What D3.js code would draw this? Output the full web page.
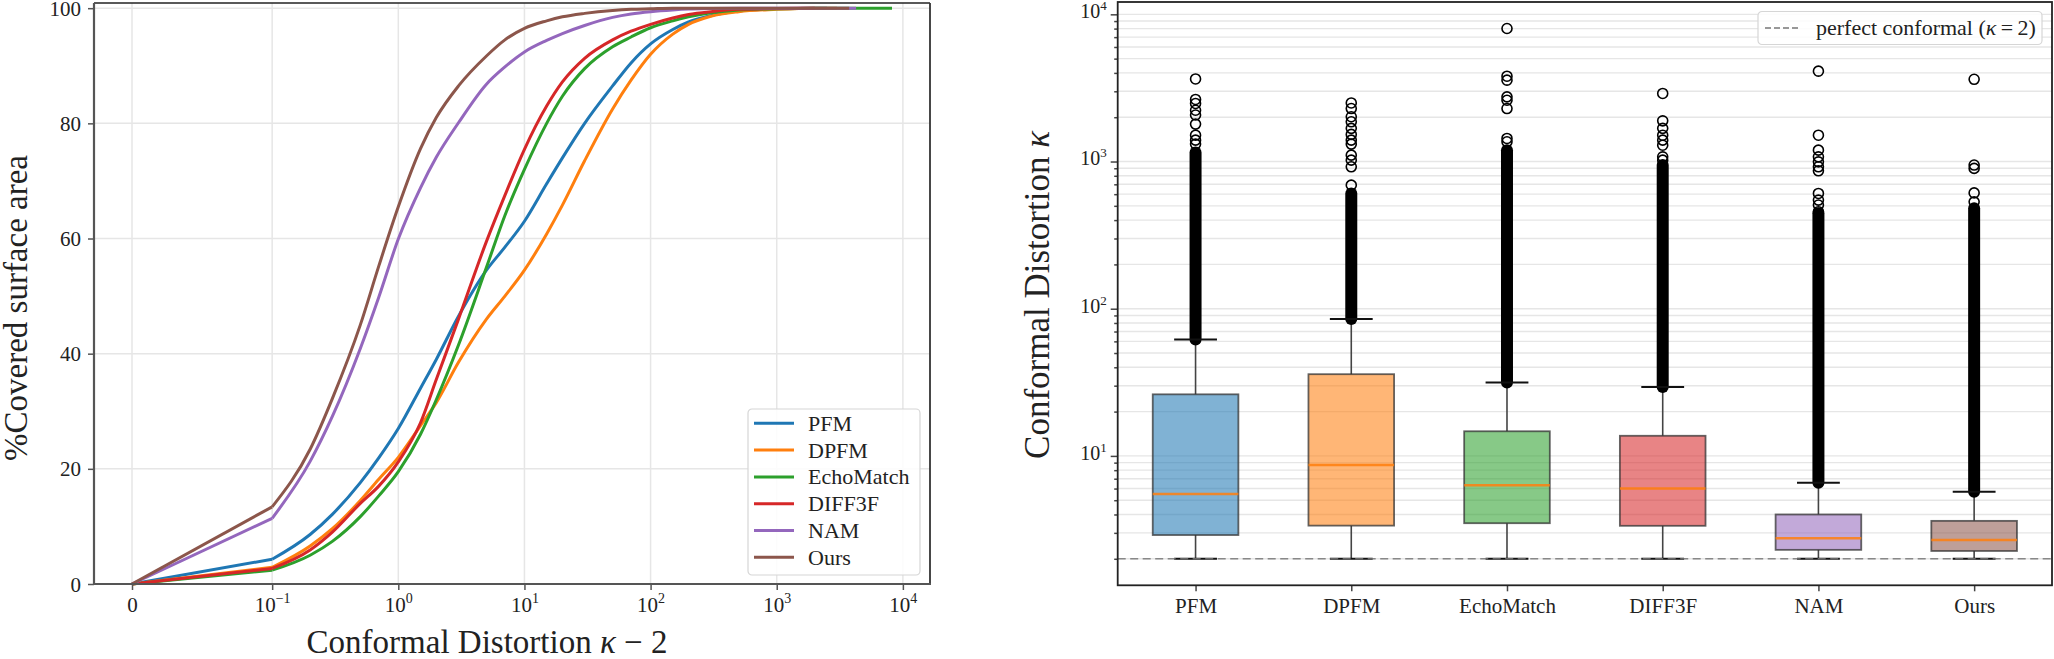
<!DOCTYPE html>
<html>
<head>
<meta charset="utf-8">
<script src="https://cdn.jsdelivr.net/npm/d3@7"></script>
<style>
  body { margin: 0; background: #fff; }
  text { font-family: "Liberation Serif", "DejaVu Serif", serif; fill: #222; }
</style>
</head>
<body>
<svg id="chart" width="2054" height="659"></svg>
<script>
const methods = ['PFM', 'DPFM', 'EchoMatch', 'DIFF3F', 'NAM', 'Ours'];
const colors = ['#1f77b4', '#ff7f0e', '#2ca02c', '#d62728', '#9467bd', '#8c564b'];

// left panel: % covered surface area vs (kappa - 2), symlog x
const kappaX = [0, 0.1, 0.2, 0.3, 0.5, 0.7, 1, 1.5, 2, 3, 5, 7, 10, 15, 20, 30, 50, 70, 100, 150, 200, 300, 500, 1000, 2000];
const covPFM = [0, 4.3, 8.6, 12.1, 17.6, 21.9, 27.0, 34.0, 39.0, 46.5, 54.5, 58.5, 63.0, 69.5, 74.0, 80.0, 86.5, 90.5, 93.8, 96.3, 97.6, 98.7, 99.5, 99.9, 100];
const covDPFM = [0, 2.9, 6.6, 9.6, 14.5, 18.2, 22.0, 27.5, 31.5, 38.5, 46.0, 50.0, 54.5, 60.8, 65.8, 73.5, 82.5, 87.5, 92.0, 95.5, 97.2, 98.6, 99.4, 99.8, 100];
const covEcho = [0, 2.4, 5.0, 7.4, 11.7, 15.3, 19.5, 26.0, 32.0, 41.5, 55.0, 64.0, 72.0, 80.0, 84.7, 89.5, 93.3, 95.0, 96.6, 97.8, 98.5, 99.2, 99.7, 99.9, 100];
const covDIFF = [0, 2.7, 5.9, 9.0, 14.0, 17.0, 21.2, 28.0, 35.5, 46.0, 59.5, 67.5, 75.5, 83.0, 87.2, 91.3, 94.5, 96.0, 97.2, 98.3, 98.9, 99.4, 99.8, 99.95, 100];
const covNAM = [0, 11.4, 21.3, 29.1, 40.9, 49.8, 59.9, 68.8, 74.1, 80.1, 86.8, 89.8, 92.4, 94.4, 95.6, 97.0, 98.4, 99.0, 99.4, 99.7, 99.85, 99.95, 100, 100, 100];
const covOurs = [0, 13.4, 23.4, 32.2, 45.0, 55.2, 65.5, 75.6, 81.0, 86.5, 91.7, 94.5, 96.5, 97.8, 98.5, 99.1, 99.6, 99.8, 99.9, 100, 100, 100, 100, 100, 100];
const covMax = [2500, 3000, 8200, 2000, 4260, 3750];   // largest kappa-2 per method
const covX = [0, 0.1, 1, 10, 100, 1000, 10000];
const covY = [0, 20, 40, 60, 80, 100];

// right panel: box plot of kappa
const boxQ1 = [2.90, 3.36, 3.49, 3.35, 2.30, 2.26];
const boxMed = [5.52, 8.69, 6.32, 6.00, 2.76, 2.68];
const boxQ3 = [26.2, 35.9, 14.7, 13.7, 4.00, 3.62];
const whiskLo = [2, 2, 2, 2, 2, 2];
const whiskHi = [61.8, 85.1, 31.5, 29.4, 6.56, 5.70];
const denseTop = [1150, 607, 1195, 946, 445, 481];   // fliers merge into a solid column up to here
const fliers = [
  [3640, 2640, 2480, 2230, 2070, 1795, 1510, 1397, 1313],
  [2500, 2290, 2015, 1862, 1680, 1529, 1398, 1313, 1105, 1022, 921, 691],
  [8010, 3800, 3570, 2750, 2610, 2290, 1435, 1361],
  [2900, 1890, 1680, 1510, 1397, 1291, 1076, 1022],
  [4110, 1510, 1195, 1076, 995, 921, 865, 607, 547, 506, 456],
  [3620, 946, 898, 612, 532]
];
const kappaTicks = [10, 100, 1000, 10000];
const perfectKappa = 2;

const svg = d3.select('#chart');
svg.append('rect').attr('width', 2054).attr('height', 659).attr('fill', '#fff');

function sup(text, base, exp, bigSize, smallSize, dy) {
  text.append('tspan').attr('font-size', bigSize).text(base);
  if (exp !== null) text.append('tspan').attr('font-size', smallSize).attr('dy', -dy).text(exp);
}

// ---------- left panel ----------
const linthresh = 0.1, linscale = 1 / (1 - 1 / 10);
const symlog = x => x <= linthresh ? x / linthresh * linscale : linscale + Math.log10(x / linthresh);
const tMax = symlog(d3.max(covMax));
const xL = d3.scaleLinear().domain([-0.05 * tMax, tMax * 1.05]).range([94, 930]);
const yL = d3.scaleLinear().domain([0, 100.9]).range([584, 3]);

const left = svg.append('g');
left.append('g').selectAll('line').data(covX).join('line')
  .attr('x1', d => xL(symlog(d))).attr('x2', d => xL(symlog(d)))
  .attr('y1', 3).attr('y2', 584)
  .attr('stroke', '#e6e6e6').attr('stroke-width', 1.5);
left.append('g').selectAll('line').data(covY).join('line')
  .attr('x1', 94).attr('x2', 930)
  .attr('y1', d => yL(d)).attr('y2', d => yL(d))
  .attr('stroke', '#e6e6e6').attr('stroke-width', 1.5);

const covSeries = [covPFM, covDPFM, covEcho, covDIFF, covNAM, covOurs].map((ys, i) => {
  const pts = kappaX.map((x, j) => [x, ys[j]]);
  pts.push([covMax[i], 100]);
  return pts;
});
const lineL = d3.line().x(d => xL(symlog(d[0]))).y(d => yL(d[1]));
covSeries.forEach((pts, i) => {
  // linear part of symlog: straight segment, then smooth log part
  left.append('path').attr('d', lineL(pts.slice(0, 2)))
    .attr('fill', 'none').attr('stroke', colors[i]).attr('stroke-width', 3);
  left.append('path').attr('d', lineL.curve(d3.curveMonotoneX)(pts.slice(1)))
    .attr('fill', 'none').attr('stroke', colors[i]).attr('stroke-width', 3);
  lineL.curve(d3.curveLinear);
});

// axes
const axL = left.append('g').attr('transform', 'translate(94,0)')
  .call(d3.axisLeft(yL).tickValues(covY).tickSize(6).tickFormat(''));
const axB = left.append('g').attr('transform', 'translate(0,584)')
  .call(d3.axisBottom(xL).tickValues(covX.map(symlog)).tickSize(6).tickFormat(''));
[axL, axB].forEach(a => {
  a.select('.domain').remove();
  a.selectAll('line').attr('stroke', '#555').attr('stroke-width', 1.5);
});
axL.selectAll('.tick').append('text')
  .attr('x', -13).attr('dy', '0.34em').attr('text-anchor', 'end')
  .attr('font-size', 21).attr('fill', '#333')
  .text((d, i) => covY[i]);
axB.selectAll('.tick').each(function (d, i) {
  const v = covX[i];
  const t = d3.select(this).append('text').attr('y', 28).attr('text-anchor', 'middle').attr('fill', '#333');
  if (v === 0) sup(t, '0', null, 21);
  else sup(t, '10', String(Math.round(Math.log10(v))).replace('-', '\u2212'), 21, 14, 9);
});

// spines
left.append('line').attr('x1', 94).attr('x2', 930).attr('y1', 3).attr('y2', 3).attr('stroke', '#222').attr('stroke-width', 1.5);
left.append('line').attr('x1', 930).attr('x2', 930).attr('y1', 3).attr('y2', 584).attr('stroke', '#333').attr('stroke-width', 1.8);
left.append('line').attr('x1', 94).attr('x2', 94).attr('y1', 3).attr('y2', 585).attr('stroke', '#555').attr('stroke-width', 2.2);
left.append('line').attr('x1', 93).attr('x2', 931).attr('y1', 584).attr('y2', 584).attr('stroke', '#555').attr('stroke-width', 2.2);

// legend
const legL = left.append('g').attr('transform', 'translate(748,409)');
legL.append('rect').attr('width', 172).attr('height', 166).attr('rx', 4)
  .attr('fill', '#fff').attr('fill-opacity', 0.85).attr('stroke', '#d6d6d6').attr('stroke-width', 1.2);
methods.forEach((m, i) => {
  const y = 14.3 + i * 26.8;
  legL.append('line').attr('x1', 6).attr('x2', 46).attr('y1', y).attr('y2', y)
    .attr('stroke', colors[i]).attr('stroke-width', 3);
  legL.append('text').attr('x', 60).attr('y', y + 7.5).attr('font-size', 22).text(m);
});

// labels
left.append('text').attr('transform', 'translate(27,308) rotate(-90)')
  .attr('text-anchor', 'middle').attr('font-size', 33).text('%Covered surface area');
const xlab = left.append('text').attr('x', 487).attr('y', 653).attr('text-anchor', 'middle').attr('font-size', 33);
xlab.append('tspan').text('Conformal Distortion ');
xlab.append('tspan').attr('font-style', 'italic').text('\u03ba');
xlab.append('tspan').text(' \u2212 2');

// ---------- right panel ----------
const xR = d3.scalePoint().domain(methods).range([1117.7, 2052]).padding(0.5);
const boxW = 0.55 * xR.step();
const lo = d3.min(whiskLo), hi = d3.max(fliers.flat());
const span = Math.log10(hi) - Math.log10(lo);
const yR = d3.scaleLog()
  .domain([10 ** (Math.log10(lo) - 0.05 * span), 10 ** (Math.log10(hi) + 0.05 * span)])
  .range([585.3, 2]);

const right = svg.append('g');
right.append('g').selectAll('line').data(yR.ticks()).join('line')
  .attr('x1', 1117.7).attr('x2', 2052)
  .attr('y1', d => yR(d)).attr('y2', d => yR(d))
  .attr('stroke', '#e6e6e6').attr('stroke-width', 1.4);

const boxes = methods.map((m, i) => ({
  m, c: colors[i], q1: boxQ1[i], med: boxMed[i], q3: boxQ3[i],
  lo: whiskLo[i], hi: whiskHi[i], dense: denseTop[i], fl: fliers[i]
}));
const bg = right.append('g').selectAll('g').data(boxes).join('g')
  .attr('transform', d => `translate(${xR(d.m)},0)`);

// whiskers
bg.append('line').attr('y1', d => yR(d.q3)).attr('y2', d => yR(d.hi))
  .attr('stroke', '#444').attr('stroke-width', 1.6);
bg.append('line').attr('y1', d => yR(d.q1)).attr('y2', d => yR(d.lo))
  .attr('stroke', '#444').attr('stroke-width', 1.6);
// dense flier column
bg.append('line').attr('y1', d => yR(d.hi)).attr('y2', d => yR(d.dense))
  .attr('stroke', '#000').attr('stroke-width', 12).attr('stroke-linecap', 'round');
// caps
bg.append('line').attr('x1', -boxW / 4).attr('x2', boxW / 4)
  .attr('y1', d => yR(d.hi)).attr('y2', d => yR(d.hi))
  .attr('stroke', '#111').attr('stroke-width', 2);
bg.append('line').attr('x1', -boxW / 4).attr('x2', boxW / 4)
  .attr('y1', d => yR(d.lo)).attr('y2', d => yR(d.lo))
  .attr('stroke', '#111').attr('stroke-width', 2);
// boxes
bg.append('rect').attr('x', -boxW / 2).attr('width', boxW)
  .attr('y', d => yR(d.q3)).attr('height', d => yR(d.q1) - yR(d.q3))
  .attr('fill', d => d.c).attr('fill-opacity', 0.57)
  .attr('stroke', '#333').attr('stroke-opacity', 0.75).attr('stroke-width', 1.8);
bg.append('line').attr('x1', -boxW / 2).attr('x2', boxW / 2)
  .attr('y1', d => yR(d.med)).attr('y2', d => yR(d.med))
  .attr('stroke', '#ff7f0e').attr('stroke-opacity', 0.85).attr('stroke-width', 2.5);
// sparse fliers
bg.selectAll('circle').data(d => d.fl).join('circle')
  .attr('cy', d => yR(d)).attr('r', 5)
  .attr('fill', 'none').attr('stroke', '#000').attr('stroke-width', 1.6);

// perfect conformal line
right.append('line').attr('x1', 1117.7).attr('x2', 2052)
  .attr('y1', yR(perfectKappa)).attr('y2', yR(perfectKappa))
  .attr('stroke', '#777').attr('stroke-opacity', 0.85).attr('stroke-width', 1.6).attr('stroke-dasharray', '8,4.5');

// axes
const axR = right.append('g').attr('transform', 'translate(1117.7,0)')
  .call(d3.axisLeft(yR).tickValues(kappaTicks).tickSize(7).tickFormat(''));
const axRm = right.append('g').attr('transform', 'translate(1117.7,0)')
  .call(d3.axisLeft(yR).tickValues(yR.ticks().filter(v => !kappaTicks.includes(v))).tickSize(3.5).tickFormat(''));
const axRb = right.append('g').attr('transform', 'translate(0,585.3)')
  .call(d3.axisBottom(xR).tickSize(6).tickFormat(''));
[axR, axRm, axRb].forEach(a => {
  a.select('.domain').remove();
  a.selectAll('line').attr('stroke', '#444').attr('stroke-width', 1.5);
});
axR.selectAll('.tick').each(function (d, i) {
  const t = d3.select(this).append('text').attr('x', -11).attr('dy', '0.34em')
    .attr('text-anchor', 'end').attr('fill', '#333');
  sup(t, '10', String(Math.round(Math.log10(kappaTicks[i]))), 20, 13, 8);
});
axRb.selectAll('.tick').append('text').attr('y', 28).attr('text-anchor', 'middle')
  .attr('font-size', 21).attr('fill', '#333').text(d => d);

// spines
right.append('rect').attr('x', 1117.7).attr('y', 2).attr('width', 2052 - 1117.7).attr('height', 583.3)
  .attr('fill', 'none').attr('stroke', '#222').attr('stroke-width', 1.8);

// legend
const legR = right.append('g').attr('transform', 'translate(1758,11.5)');
legR.append('rect').attr('width', 284).attr('height', 33).attr('rx', 4)
  .attr('fill', '#fff').attr('fill-opacity', 0.85).attr('stroke', '#d6d6d6').attr('stroke-width', 1.2);
legR.append('line').attr('x1', 7).attr('x2', 43).attr('y1', 16.5).attr('y2', 16.5)
  .attr('stroke', '#777').attr('stroke-width', 1.4).attr('stroke-dasharray', '6,3');
const lt = legR.append('text').attr('x', 58).attr('y', 23.5).attr('font-size', 22);
lt.append('tspan').text('perfect conformal (');
lt.append('tspan').attr('font-style', 'italic').text('\u03ba');
lt.append('tspan').text('\u2009=\u20092)');

// label
const ylab = right.append('text').attr('transform', 'translate(1049,295) rotate(-90)')
  .attr('text-anchor', 'middle').attr('font-size', 35);
ylab.append('tspan').text('Conformal Distortion ');
ylab.append('tspan').attr('font-style', 'italic').text('\u03ba');
</script>
</body>
</html>
